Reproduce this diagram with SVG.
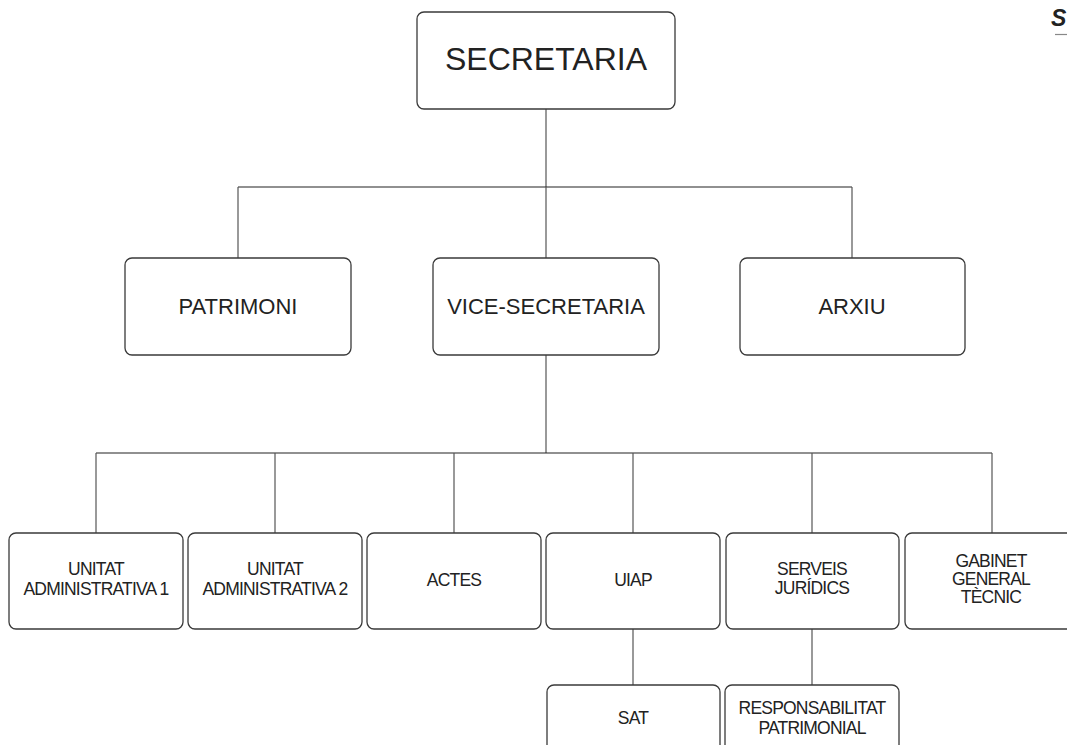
<svg xmlns="http://www.w3.org/2000/svg" width="1067" height="745" viewBox="0 0 1067 745">
<style>
.box{fill:#fff;stroke:#3a3a3a;stroke-width:1.3}
.t{font-family:"Liberation Sans",Arial,sans-serif;fill:#222;text-anchor:middle}
.t1{font-size:32px}
.t2{font-size:22px}
.t3{font-size:17.5px;letter-spacing:-0.8px}
.h{stroke:#222;stroke-width:1.2;fill:none}
.v{stroke:#555;stroke-width:1.2;fill:none}
</style>
<rect width="1067" height="745" fill="#fff"/>
<g id="connectors">
<line class="v" x1="546" y1="109" x2="546" y2="187"/>
<line class="h" x1="238" y1="187" x2="852" y2="187"/>
<line class="v" x1="238" y1="187" x2="238" y2="258"/>
<line class="v" x1="546" y1="187" x2="546" y2="258"/>
<line class="v" x1="852" y1="187" x2="852" y2="258"/>
<line class="v" x1="546" y1="355" x2="546" y2="453"/>
<line class="h" x1="96" y1="453" x2="992" y2="453"/>
<line class="v" x1="96" y1="453" x2="96" y2="533"/>
<line class="v" x1="275" y1="453" x2="275" y2="533"/>
<line class="v" x1="454" y1="453" x2="454" y2="533"/>
<line class="v" x1="633" y1="453" x2="633" y2="533"/>
<line class="v" x1="812" y1="453" x2="812" y2="533"/>
<line class="v" x1="992" y1="453" x2="992" y2="533"/>
<line class="v" x1="633" y1="629" x2="633" y2="685"/>
<line class="v" x1="812" y1="629" x2="812" y2="685"/>
</g>
<g id="header">
<text x="1051" y="26" font-family="Liberation Sans,Arial,sans-serif" font-size="23" font-weight="bold" font-style="italic" fill="#222">S</text>
<line x1="1055" y1="34.5" x2="1067" y2="34.5" stroke="#888" stroke-width="1.2"/>
</g>
<g id="secretaria">
<rect class="box" x="417" y="12" width="258" height="97" rx="7"/>
<text class="t t1" x="546" y="70">SECRETARIA</text>
</g>
<g id="patrimoni">
<rect class="box" x="125" y="258" width="226" height="97" rx="7"/>
<text class="t t2" x="238" y="314">PATRIMONI</text>
</g>
<g id="vice-secretaria">
<rect class="box" x="433" y="258" width="226" height="97" rx="7"/>
<text class="t t2" x="546" y="314">VICE-SECRETARIA</text>
</g>
<g id="arxiu">
<rect class="box" x="740" y="258" width="225" height="97" rx="7"/>
<text class="t t2" x="852" y="314">ARXIU</text>
</g>
<g id="unitat1">
<rect class="box" x="9" y="533" width="174" height="96" rx="7"/>
<text class="t t3" x="96" y="575">UNITAT</text>
<text class="t t3" x="96" y="595">ADMINISTRATIVA 1</text>
</g>
<g id="unitat2">
<rect class="box" x="188" y="533" width="174" height="96" rx="7"/>
<text class="t t3" x="275" y="575">UNITAT</text>
<text class="t t3" x="275" y="595">ADMINISTRATIVA 2</text>
</g>
<g id="actes">
<rect class="box" x="367" y="533" width="174" height="96" rx="7"/>
<text class="t t3" x="454" y="586">ACTES</text>
</g>
<g id="uiap">
<rect class="box" x="546" y="533" width="174" height="96" rx="7"/>
<text class="t t3" x="633" y="586">UIAP</text>
</g>
<g id="serveis">
<rect class="box" x="726" y="533" width="173" height="96" rx="7"/>
<text class="t t3" x="812" y="575">SERVEIS</text>
<text class="t t3" x="812" y="594">JURÍDICS</text>
</g>
<g id="gabinet">
<rect class="box" x="905" y="533" width="174" height="96" rx="7"/>
<text class="t t3" x="991" y="567">GABINET</text>
<text class="t t3" x="991" y="585">GENERAL</text>
<text class="t t3" x="991" y="603">TÈCNIC</text>
</g>
<g id="sat">
<rect class="box" x="547" y="685" width="173" height="96" rx="7"/>
<text class="t t3" x="633" y="724">SAT</text>
</g>
<g id="responsabilitat">
<rect class="box" x="725" y="685" width="174" height="96" rx="7"/>
<text class="t t3" x="812" y="714">RESPONSABILITAT</text>
<text class="t t3" x="812" y="734">PATRIMONIAL</text>
</g>
</svg>
